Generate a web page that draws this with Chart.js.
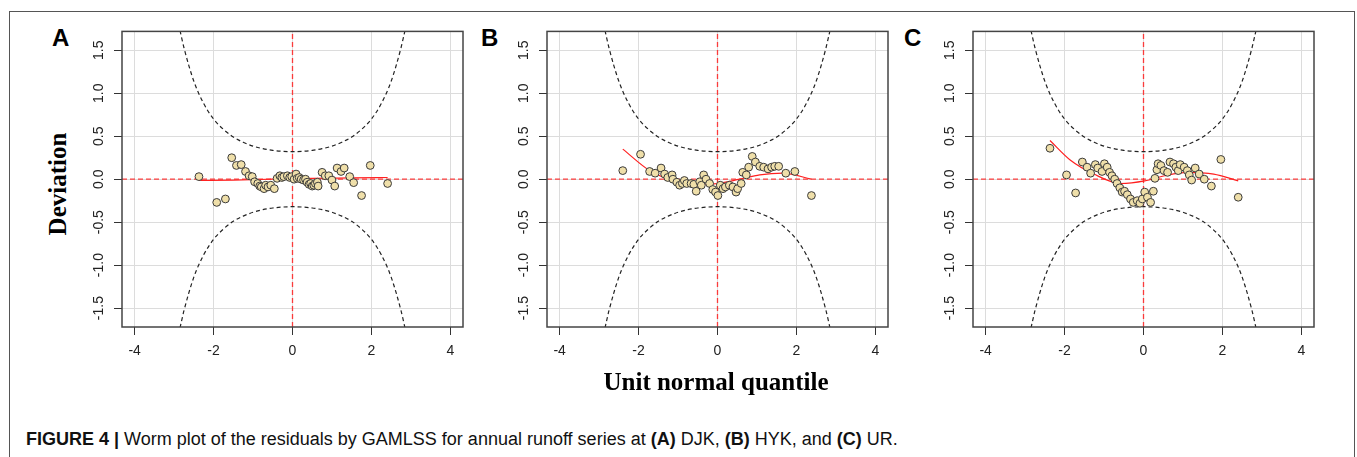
<!DOCTYPE html>
<html>
<head>
<meta charset="utf-8">
<title>Worm plot</title>
<script src="https://cdn.jsdelivr.net/npm/chart.js@4.4.1/dist/chart.umd.min.js"></script>
<style>
  body { margin: 0; width: 1357px; height: 457px; background: #fff; position: relative; overflow: hidden;
         font-family: "Liberation Sans", Arial, sans-serif; }
  #frame { position: absolute; left: 9px; top: 11px; width: 1346px; height: 470px; border: 1px solid #555; box-sizing: border-box; }
  .panel { position: absolute; top: 20px; }
  .tag { position: absolute; top: 24px; font: bold 24px "Liberation Sans", Arial, sans-serif; color: #000; }
  #ylab { position: absolute; left: 58px; top: 184px; transform: translate(-50%, -50%) rotate(-90deg);
          font: bold 25px "Liberation Serif", "Times New Roman", serif; white-space: nowrap; }
  #xlab { position: absolute; left: 716px; top: 382px; transform: translate(-50%, -50%);
          font: bold 25px "Liberation Serif", "Times New Roman", serif; white-space: nowrap; }
  #caption { position: absolute; left: 26px; top: 429px; font-size: 18px; color: #111; white-space: nowrap; }
</style>
</head>
<body>
<div id="frame"></div>
<canvas id="chartA" class="panel" width="390" height="350" style="left:82px"></canvas>
<canvas id="chartB" class="panel" width="390" height="350" style="left:507px"></canvas>
<canvas id="chartC" class="panel" width="390" height="350" style="left:933px"></canvas>
<div class="tag" style="left:52px">A</div>
<div class="tag" style="left:481px">B</div>
<div class="tag" style="left:904px">C</div>
<div id="ylab">Deviation</div>
<div id="xlab">Unit normal quantile</div>
<div id="caption"><b>FIGURE 4 |</b> Worm plot of the residuals by GAMLSS for annual runoff series at <b>(A)</b> DJK, <b>(B)</b> HYK, and <b>(C)</b> UR.</div>

<script>
// axis ticks
const xTicks = [-4, -2, 0, 2, 4];
const yTicks = [-1.5, -1.0, -0.5, 0.0, 0.5, 1.0, 1.5];

// confidence bands (same in every panel)
const bandZ     = [-2.85, -2.75, -2.5, -2.25, -2, -1.75, -1.5, -1.25, -1, -0.75, -0.5, -0.25, 0,
                   0.25, 0.5, 0.75, 1, 1.25, 1.5, 1.75, 2, 2.25, 2.5, 2.75, 2.85];
const bandUpper = [1.73, 1.53, 1.14, 0.88, 0.70, 0.58, 0.49, 0.43, 0.385, 0.355, 0.335, 0.324, 0.32,
                   0.324, 0.335, 0.355, 0.385, 0.43, 0.49, 0.58, 0.70, 0.88, 1.14, 1.53, 1.73];
const bandLower = [-1.73, -1.53, -1.14, -0.88, -0.70, -0.58, -0.49, -0.43, -0.385, -0.355, -0.335, -0.324, -0.32,
                   -0.324, -0.335, -0.355, -0.385, -0.43, -0.49, -0.58, -0.70, -0.88, -1.14, -1.53, -1.73];

// (A) DJK residuals
const djkPoints = [[-2.37,0.03],[-1.92,-0.27],[-1.70,-0.23],[-1.54,0.25],[-1.42,0.16],[-1.30,0.17],[-1.19,0.09],
  [-1.10,0.04],[-1.02,0.03],[-0.96,-0.03],[-0.88,-0.05],[-0.83,-0.08],[-0.79,-0.09],[-0.72,-0.11],[-0.68,-0.07],
  [-0.62,-0.09],[-0.55,-0.07],[-0.46,-0.11],[-0.39,0.01],[-0.32,0.04],[-0.27,0.02],[-0.22,0.03],[-0.13,0.04],
  [-0.07,0.02],[-0.02,0.03],[0.04,0.0],[0.09,0.06],[0.12,0.01],[0.17,0.02],[0.22,0.0],[0.28,-0.01],[0.33,0.0],
  [0.37,-0.035],[0.42,-0.06],[0.46,-0.05],[0.50,-0.08],[0.54,-0.07],[0.58,-0.05],[0.63,-0.035],[0.65,-0.08],
  [0.75,0.08],[0.83,0.04],[0.92,0.04],[1.00,-0.01],[1.07,-0.08],[1.13,0.13],[1.23,0.09],[1.31,0.13],[1.45,0.03],
  [1.55,-0.04],[1.75,-0.19],[1.97,0.16],[2.41,-0.05]];
const djkFitX = [-2.37, -1.5, -0.5, 0, 0.5, 1.5, 2.41];
const djkFitY = [-0.015, -0.01, 0.0, 0.005, 0.01, 0.015, 0.02];

// (B) HYK residuals
const hykPoints = [[-2.40,0.10],[-1.95,0.29],[-1.72,0.09],[-1.58,0.07],[-1.43,0.13],[-1.34,0.06],[-1.26,0.02],
  [-1.15,0.05],[-1.13,0.0],[-1.03,-0.035],[-0.96,-0.07],[-0.89,-0.05],[-0.84,-0.015],[-0.78,-0.05],[-0.67,-0.05],
  [-0.60,-0.06],[-0.54,-0.14],[-0.45,-0.03],[-0.41,-0.07],[-0.35,0.05],[-0.29,0.0],[-0.20,-0.05],[-0.12,-0.12],
  [-0.05,-0.15],[0.01,-0.19],[0.07,-0.07],[0.14,-0.11],[0.20,-0.09],[0.30,-0.07],[0.39,-0.09],[0.47,-0.15],
  [0.51,-0.11],[0.60,-0.05],[0.64,0.08],[0.73,0.05],[0.79,0.14],[0.88,0.265],[0.96,0.20],[1.07,0.15],[1.17,0.14],
  [1.28,0.12],[1.37,0.14],[1.45,0.15],[1.55,0.15],[1.73,0.07],[1.96,0.09],[2.38,-0.19]];
const hykFitX = [-2.40, -1.72, -1.04, -0.45, 0.01, 0.56, 1.07, 1.66, 2.38];
const hykFitY = [0.35, 0.10, -0.03, -0.06, -0.05, 0.0, 0.05, 0.07, 0.0];

// (C) UR residuals
const urPoints = [[-2.37,0.36],[-1.95,0.05],[-1.72,-0.16],[-1.55,0.20],[-1.43,0.14],[-1.34,0.07],[-1.22,0.17],
  [-1.16,0.13],[-1.05,0.09],[-0.99,0.18],[-0.92,0.14],[-0.86,0.08],[-0.80,0.04],[-0.73,0.0],[-0.67,-0.05],
  [-0.60,-0.10],[-0.54,-0.15],[-0.48,-0.14],[-0.41,-0.18],[-0.33,-0.23],[-0.26,-0.27],[-0.16,-0.25],[-0.09,-0.28],
  [-0.03,-0.23],[0.03,-0.15],[0.10,-0.21],[0.18,-0.27],[0.25,-0.14],[0.29,0.01],[0.34,0.11],[0.37,0.18],[0.44,0.16],
  [0.52,0.10],[0.61,0.08],[0.67,0.20],[0.76,0.18],[0.82,0.14],[0.88,0.10],[0.93,0.17],[1.03,0.14],[1.11,0.10],
  [1.16,0.05],[1.22,-0.01],[1.31,0.13],[1.41,0.06],[1.54,0.0],[1.72,-0.08],[1.96,0.23],[2.40,-0.21]];
const urFitX = [-2.37, -1.85, -1.26, -0.58, 0.03, 0.53, 1.11, 1.78, 2.40];
const urFitY = [0.45, 0.22, 0.06, -0.05, -0.02, 0.04, 0.08, 0.06, -0.02];

const xRange = [-4.32, 4.32];
const yRange = [-1.72, 1.72];

const toXY = (xs, ys) => xs.map((x, i) => ({ x: x, y: ys[i] }));

// full box round the plot area
const frameBox = {
  id: 'frameBox',
  afterDatasetsDraw(chart) {
    const { ctx, chartArea: a } = chart;
    ctx.save();
    ctx.strokeStyle = '#444';
    ctx.lineWidth = 1.5;
    ctx.strokeRect(a.left, a.top, a.right - a.left, a.bottom - a.top);
    ctx.restore();
  }
};

function makePanel(id, points, fitX, fitY) {
  const tickFont = { family: 'Liberation Sans', size: 14 };
  new Chart(document.getElementById(id), {
    type: 'scatter',
    data: {
      datasets: [
        {
          data: points.map(p => ({ x: p[0], y: p[1] })),
          pointRadius: 3.9,
          backgroundColor: '#efdfa9',
          borderColor: '#3a3a3a',
          borderWidth: 1,
          order: 0
        },
        {
          data: toXY(fitX, fitY),
          showLine: true, pointRadius: 0,
          borderColor: '#ff2020', borderWidth: 1.2,
          cubicInterpolationMode: 'monotone',
          order: 1
        },
        {
          data: toXY(bandZ, bandUpper),
          showLine: true, pointRadius: 0,
          borderColor: '#222', borderWidth: 1.2, borderDash: [4, 3],
          cubicInterpolationMode: 'monotone',
          order: 2
        },
        {
          data: toXY(bandZ, bandLower),
          showLine: true, pointRadius: 0,
          borderColor: '#222', borderWidth: 1.2, borderDash: [4, 3],
          cubicInterpolationMode: 'monotone',
          order: 2
        },
        {
          data: toXY(xRange, [0, 0]),
          showLine: true, pointRadius: 0,
          borderColor: 'rgba(255,30,30,0.85)', borderWidth: 1.3, borderDash: [5, 3],
          order: 3
        },
        {
          data: toXY([0, 0], yRange),
          showLine: true, pointRadius: 0,
          borderColor: 'rgba(255,30,30,0.85)', borderWidth: 1.3, borderDash: [5, 3],
          order: 3
        }
      ]
    },
    options: {
      responsive: false,
      animation: false,
      events: [],
      layout: { padding: { top: 8, right: 9, left: 0, bottom: 0 } },
      plugins: { legend: { display: false }, tooltip: { enabled: false } },
      scales: {
        x: {
          type: 'linear', min: xRange[0], max: xRange[1],
          afterBuildTicks: s => { s.ticks = xTicks.map(v => ({ value: v })); },
          afterFit: s => { s.height = 43; },
          grid: { color: '#dcdcdc', lineWidth: 1, tickLength: 8, tickColor: '#333' },
          border: { display: false },
          ticks: { color: '#222', font: tickFont, padding: 8, maxRotation: 0, callback: v => String(v) }
        },
        y: {
          type: 'linear', min: yRange[0], max: yRange[1],
          afterBuildTicks: s => { s.ticks = yTicks.map(v => ({ value: v })); },
          afterFit: s => { s.width = 40; },
          grid: { color: '#dcdcdc', lineWidth: 1, tickLength: 8, tickColor: '#333' },
          border: { display: false },
          ticks: { color: '#222', font: tickFont, padding: 3, minRotation: 90, maxRotation: 90,
                   crossAlign: 'center', callback: v => v.toFixed(1) }
        }
      }
    },
    plugins: [frameBox]
  });
}

makePanel('chartA', djkPoints, djkFitX, djkFitY);
makePanel('chartB', hykPoints, hykFitX, hykFitY);
makePanel('chartC', urPoints, urFitX, urFitY);
</script>
</body>
</html>
